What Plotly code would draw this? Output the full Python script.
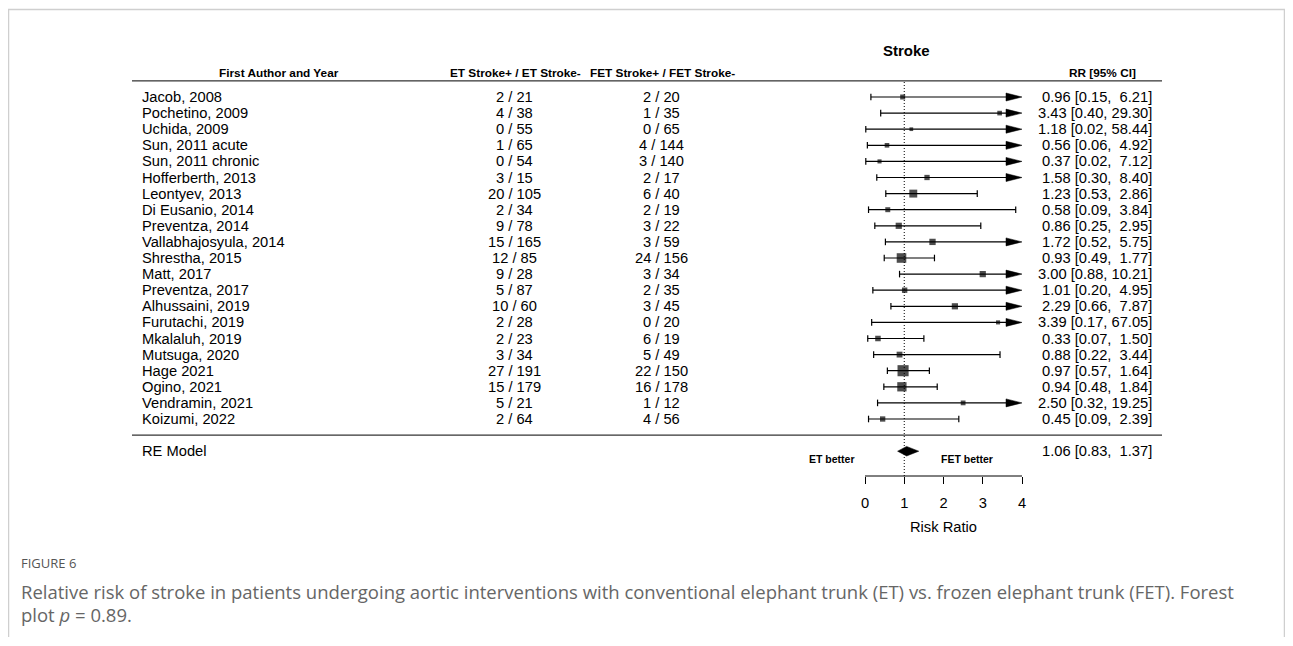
import math
import plotly.graph_objects as go

# ---------------- data ----------------
studies = ["Jacob, 2008", "Pochetino, 2009", "Uchida, 2009", "Sun, 2011 acute", "Sun, 2011 chronic",
           "Hofferberth, 2013", "Leontyev, 2013", "Di Eusanio, 2014", "Preventza, 2014",
           "Vallabhajosyula, 2014", "Shrestha, 2015", "Matt, 2017", "Preventza, 2017",
           "Alhussaini, 2019", "Furutachi, 2019", "Mkalaluh, 2019", "Mutsuga, 2020",
           "Hage 2021", "Ogino, 2021", "Vendramin, 2021", "Koizumi, 2022"]
et_counts = ["2 / 21", "4 / 38", "0 / 55", "1 / 65", "0 / 54", "3 / 15", "20 / 105", "2 / 34",
             "9 / 78", "15 / 165", "12 / 85", "9 / 28", "5 / 87", "10 / 60", "2 / 28", "2 / 23",
             "3 / 34", "27 / 191", "15 / 179", "5 / 21", "2 / 64"]
fet_counts = ["2 / 20", "1 / 35", "0 / 65", "4 / 144", "3 / 140", "2 / 17", "6 / 40", "2 / 19",
              "3 / 22", "3 / 59", "24 / 156", "3 / 34", "2 / 35", "3 / 45", "0 / 20", "6 / 19",
              "5 / 49", "22 / 150", "16 / 178", "1 / 12", "4 / 56"]
rr = [0.96, 3.43, 1.18, 0.56, 0.37, 1.58, 1.23, 0.58, 0.86, 1.72, 0.93, 3.00, 1.01, 2.29, 3.39,
      0.33, 0.88, 0.97, 0.94, 2.50, 0.45]
rr_lower = [0.15, 0.40, 0.02, 0.06, 0.02, 0.30, 0.53, 0.09, 0.25, 0.52, 0.49, 0.88, 0.20, 0.66,
            0.17, 0.07, 0.22, 0.57, 0.48, 0.32, 0.09]
rr_upper = [6.21, 29.30, 58.44, 4.92, 7.12, 8.40, 2.86, 3.84, 2.95, 5.75, 1.77, 10.21, 4.95, 7.87,
            67.05, 1.50, 3.44, 1.64, 1.84, 19.25, 2.39]
re_label = "RE Model"
re_est, re_lower, re_upper = 1.06, 0.83, 1.37
x_ticks = [0, 1, 2, 3, 4]
x_max = 4

title = "Stroke"
col_headers = ["First Author and Year", "ET Stroke+ / ET Stroke-", "FET Stroke+ / FET Stroke-", "RR [95% CI]"]
axis_title = "Risk Ratio"
left_note, right_note = "ET better", "FET better"
fig_label = "FIGURE 6"
caption_1 = ("Relative risk of stroke in patients undergoing aortic interventions with conventional "
             "elephant trunk (ET) vs. frozen elephant trunk (FET). Forest")
caption_2 = "plot <i>p</i> = 0.89."

# ---------------- geometry ----------------
W, H = 1277, 629          # figure size (page has 8px body margin)
OFF = 8
PX0, PXU = 865.0, 39.25   # page px of RR=0 and px per RR unit
ROW0, ROWH = 97.0, 16.1   # page y of first row, row height


def X(p):   # page px -> data x
    return (p - PX0) / PXU


def K(py):  # page px -> row coordinate
    return (py - ROW0) / ROWH


def PX(p):  # page px -> paper x
    return (p - OFF) / W


def PY(py):
    return 1 - (py - OFF) / H


FONT = "Liberation Sans, Arial, sans-serif"
n = len(studies)
rows = list(range(n))
RE_ROW = n + 1

fig = go.Figure()

# CI lines, caps and arrows
alen = 16 / PXU
ah = 4.0 / ROWH
ch = 3.3 / ROWH
lx, ly, cx, cy, ax, ay = [], [], [], [], [], []
for r, lo, hi in zip(rows, rr_lower, rr_upper):
    end = hi if hi <= x_max else x_max - alen
    lx += [lo, end, None]
    ly += [r, r, None]
    cx += [lo, lo, None]
    cy += [r - ch, r + ch, None]
    if hi <= x_max:
        cx += [hi, hi, None]
        cy += [r - ch, r + ch, None]
    else:
        ax += [x_max - alen, x_max, x_max - alen, x_max - alen, None]
        ay += [r - ah, r, r + ah, r - ah, None]

fig.add_trace(go.Scatter(x=lx, y=ly, mode="lines", line=dict(color="black", width=1.2),
                         hoverinfo="skip", showlegend=False))
fig.add_trace(go.Scatter(x=cx, y=cy, mode="lines", line=dict(color="black", width=1.2),
                         hoverinfo="skip", showlegend=False))
fig.add_trace(go.Scatter(x=ax, y=ay, mode="lines", fill="toself", fillcolor="black",
                         line=dict(color="black", width=0.5), hoverinfo="skip", showlegend=False))

# point sizes (metafor style: proportional to 1/SE, rescaled 0.5..1.5)
inv_se = [3.92 / (math.log(hi) - math.log(lo)) for lo, hi in zip(rr_lower, rr_upper)]
mn, mx = min(inv_se), max(inv_se)
sizes = [7.4 * (0.5 + (v - mn) / (mx - mn)) for v in inv_se]
fig.add_trace(go.Scatter(x=rr, y=rows, mode="markers",
                         marker=dict(symbol="square", size=sizes, color="black", line=dict(width=0)),
                         hoverinfo="skip", showlegend=False))

# reference line at 1
fig.add_trace(go.Scatter(x=[1, 1], y=[K(82), K(476)], mode="lines",
                         line=dict(color="black", width=1, dash="1px,2px"),
                         hoverinfo="skip", showlegend=False))

# summary diamond
dh = 4.8 / ROWH
fig.add_trace(go.Scatter(x=[re_lower, re_est, re_upper, re_est, re_lower],
                         y=[RE_ROW, RE_ROW - dh, RE_ROW, RE_ROW + dh, RE_ROW],
                         mode="lines", fill="toself", fillcolor="black",
                         line=dict(color="black", width=0.5), hoverinfo="skip", showlegend=False))

shapes = []
# header / footer rules
for k in (-1, n):
    shapes.append(dict(type="line", xref="x", yref="y", x0=X(132), x1=X(1162), y0=k, y1=k,
                       line=dict(color="black", width=1)))
# x-axis line from 0 to 4
shapes.append(dict(type="line", xref="x", yref="y", x0=x_ticks[0], x1=x_ticks[-1],
                   y0=K(476), y1=K(476), line=dict(color="black", width=1)))
# page frame
fc = "#cfcfcf"
shapes.append(dict(type="line", xref="paper", yref="paper", x0=PX(8.5), x1=PX(8.5), y0=PY(9), y1=0,
                   line=dict(color=fc, width=1.5)))
shapes.append(dict(type="line", xref="paper", yref="paper", x0=PX(8), x1=PX(1285), y0=PY(9.5), y1=PY(9.5),
                   line=dict(color=fc, width=1.5)))
shapes.append(dict(type="line", xref="paper", yref="paper", x0=PX(1284.5), x1=PX(1284.5), y0=PY(9), y1=0,
                   line=dict(color=fc, width=1.5)))

ann = []


def text(x, y, s, anchor="left", size=14.7, color="black", family=FONT, xref="x"):
    ann.append(dict(x=x, y=y, xref=xref, yref="y", text=s, showarrow=False, xanchor=anchor,
                    yanchor="middle", font=dict(family=family, size=size, color=color)))


NB = "\u00a0"


def fmt(est, lo, hi):
    return (f"{est:.2f} [{lo:.2f}, {hi:>5.2f}]").replace(" ", NB)


text(X(906), K(50), f"<b>{title}</b>", "center", 15)
hdr_y = K(73)
text(X(279), hdr_y, f"<b>{col_headers[0]}</b>", "center", 11.8)
text(X(515), hdr_y, f"<b>{col_headers[1]}</b>", "center", 11.8)
text(X(662), hdr_y, f"<b>{col_headers[2]}</b>", "center", 11.8)
text(X(1138), hdr_y, f"<b>{col_headers[3]}</b>", "right", 11.8)

for r, s, e, f_, est, lo, hi in zip(rows, studies, et_counts, fet_counts, rr, rr_lower, rr_upper):
    text(X(140), r, s, "left")
    text(X(514), r, e, "center")
    text(X(661), r, f_, "center")
    text(X(1154), r, fmt(est, lo, hi), "right")

text(X(140), RE_ROW, re_label, "left")
text(X(1154), RE_ROW, fmt(re_est, re_lower, re_upper), "right")
text(X(832), K(459), f"<b>{left_note}</b>", "center", 10.5)
text(X(967), K(459), f"<b>{right_note}</b>", "center", 10.5)
text(2, K(527), axis_title, "center", 14.7)

CAP_FONT = "Open Sans, Noto Sans, sans-serif"
text(X(19), K(563), fig_label, "left", 13, "#555555", CAP_FONT)
text(X(19), K(591), caption_1, "left", 18.5, "#666666", CAP_FONT)
text(X(19), K(614), caption_2, "left", 18.5, "#666666", CAP_FONT)

fig.update_layout(
    width=W, height=H, margin=dict(l=0, r=0, t=0, b=0, pad=0),
    template="none", paper_bgcolor="white", plot_bgcolor="white",
    shapes=shapes, annotations=ann, showlegend=False,
    xaxis=dict(range=[X(OFF), X(OFF + W)], anchor="free", position=PY(476),
               tickvals=x_ticks, ticktext=[str(t) for t in x_ticks],
               ticks="outside", ticklen=7, tickwidth=1, tickcolor="black",
               tickfont=dict(family=FONT, size=14.7, color="black"), ticklabelstandoff=6,
               showgrid=False, zeroline=False, showline=False, fixedrange=True),
    yaxis=dict(range=[K(OFF + H), K(OFF)], visible=False, showgrid=False, zeroline=False,
               fixedrange=True),
)

fig.write_html("out.html")
